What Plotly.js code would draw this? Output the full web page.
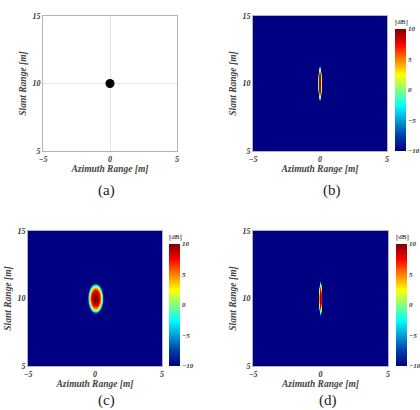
<!DOCTYPE html>
<html>
<head>
<meta charset="utf-8">
<script src="https://cdn.plot.ly/plotly-3.0.1.min.js"></script>
<style>
  html, body { margin: 0; padding: 0; background: #fff; }
  #chart { width: 420px; height: 410px; }
</style>
</head>
<body>
<div id="chart"></div>
<script>
// Point target position (azimuth, slant range), metres
const targetAz = [0];
const targetRg = [10];

// Axis ticks and colour range
const azTicks = [-5, 0, 5];
const rgTicks = [5, 10, 15];
const dbTicks = [-10, -5, 0, 5, 10];
const dbRange = [-10, 10];

// Peak level of each focused image, dB
const peakB = 10;
const peakC = 10;
const peakD = 10;

// Half-widths of each focused response at the -10 dB level: [azimuth, range], metres
const spreadB = [0.15, 1.35];
const spreadC = [0.6, 1.15];
const spreadD = [0.14, 1.3];

// Main-lobe level (dB relative to peak) against normalised radius
const lobeRadius = [0, 0.2, 0.4, 0.55, 0.7, 0.85, 1.0, 1.2, 1.5, 100];
const lobeLevel  = [0, -0.3, -1.2, -3, -6.5, -12, -20, -32, -50, -80];

const W = 420, H = 410;
const SERIF = 'Times New Roman, DejaVu Serif, serif';

// sample positions of the image grid (fine near the target, coarse far away)
function samples(c, half, step, lo, hi) {
  const s = [lo];
  for (let v = -half; v <= half + 1e-9; v += step) s.push(+(c + v).toFixed(4));
  s.push(hi);
  return s;
}

function lobe(r) {
  for (let k = 1; k < lobeRadius.length; k++) {
    if (r <= lobeRadius[k]) {
      const t = (r - lobeRadius[k - 1]) / (lobeRadius[k] - lobeRadius[k - 1]);
      return lobeLevel[k - 1] + t * (lobeLevel[k] - lobeLevel[k - 1]);
    }
  }
  return lobeLevel[lobeLevel.length - 1];
}

function image(spread, peak) {
  const x = samples(targetAz[0], Math.max(1, spread[0] * 1.6), spread[0] / 8, -5, 5);
  const y = samples(targetRg[0], spread[1] * 1.6, spread[1] / 40, 5, 15);
  const z = y.map(yy => x.map(xx => {
    const r = Math.hypot((xx - targetAz[0]) / spread[0], (yy - targetRg[0]) / spread[1]);
    return peak + lobe(r);
  }));
  return { x, y, z };
}

function colorbar(leftPx, topPx, botPx) {
  return {
    x: leftPx / W, xanchor: 'left', xpad: 0,
    y: 1 - (topPx + botPx) / 2 / H, yanchor: 'middle', ypad: 0,
    len: (botPx - topPx) / H, lenmode: 'fraction',
    thickness: 11, thicknessmode: 'pixels',
    outlinewidth: 0,
    tickvals: dbTicks, ticks: '',
    tickfont: { family: SERIF, size: 7, weight: 'bold', style: 'italic', color: '#333' },
    title: { text: '[dB]', side: 'top', font: { family: SERIF, size: 7, color: '#000' } }
  };
}

function heat(img, xa, ya, cb) {
  return {
    type: 'heatmap', x: img.x, y: img.y, z: img.z,
    xaxis: xa, yaxis: ya,
    zmin: dbRange[0], zmax: dbRange[1], zsmooth: 'best',
    colorscale: 'Jet', showscale: true, colorbar: cb,
    hoverinfo: 'skip'
  };
}

const data = [
  { type: 'scatter', mode: 'markers', x: targetAz, y: targetRg,
    marker: { size: 9, color: '#000' }, xaxis: 'x', yaxis: 'y', hoverinfo: 'skip' },
  heat(image(spreadB, peakB), 'x2', 'y2', colorbar(395, 16, 151)),
  heat(image(spreadC, peakC), 'x3', 'y3', colorbar(169, 231, 366)),
  heat(image(spreadD, peakD), 'x4', 'y4', colorbar(396, 231, 366))
];

const tickfont = { family: SERIF, size: 8, weight: 'bold', style: 'italic', color: '#333' };
const titlefont = { family: SERIF, size: 9.5, weight: 'bold', style: 'italic', color: '#444' };

function xAxis(l, r, anchor, grid) {
  return {
    domain: [l / W, r / W], anchor: anchor, range: [-5, 5],
    tickvals: azTicks, ticks: '', tickfont: tickfont,
    showgrid: grid, gridcolor: '#e4e4e4', zeroline: false,
    showline: true, mirror: true, linecolor: '#b4b4b4', linewidth: 1,
    title: { text: 'Azimuth Range [m]', font: titlefont, standoff: 2 },
    fixedrange: true
  };
}
function yAxis(t, b, anchor, grid) {
  return {
    domain: [1 - b / H, 1 - t / H], anchor: anchor, range: [5, 15],
    tickvals: rgTicks, ticks: '', tickfont: tickfont,
    showgrid: grid, gridcolor: '#e4e4e4', zeroline: false,
    showline: true, mirror: true, linecolor: '#b4b4b4', linewidth: 1,
    title: { text: 'Slant Range [m]', font: titlefont, standoff: 4 },
    fixedrange: true
  };
}

function panelLabel(txt, cx, cy) {
  return { text: txt, x: cx / W, y: 1 - cy / H, xref: 'paper', yref: 'paper',
           xanchor: 'center', yanchor: 'middle', showarrow: false,
           font: { family: SERIF, size: 15, color: '#222' } };
}

const layout = {
  width: W, height: H,
  margin: { l: 0, r: 0, t: 0, b: 0 },
  paper_bgcolor: '#fff', plot_bgcolor: '#fff',
  showlegend: false,
  font: { family: SERIF },
  xaxis: xAxis(43, 177, 'y', true),
  yaxis: yAxis(16, 151, 'x', true),
  xaxis2: xAxis(253, 387, 'y2', false),
  yaxis2: yAxis(16, 151, 'x2', false),
  xaxis3: xAxis(28, 162, 'y3', false),
  yaxis3: yAxis(231, 366, 'x3', false),
  xaxis4: xAxis(253, 388, 'y4', false),
  yaxis4: yAxis(231, 366, 'x4', false),
  annotations: [
    panelLabel('(a)', 106, 190),
    panelLabel('(b)', 332, 190),
    panelLabel('(c)', 106, 400),
    panelLabel('(d)', 328, 400)
  ]
};

Plotly.newPlot('chart', data, layout, { displayModeBar: false, staticPlot: true });
</script>
</body>
</html>
